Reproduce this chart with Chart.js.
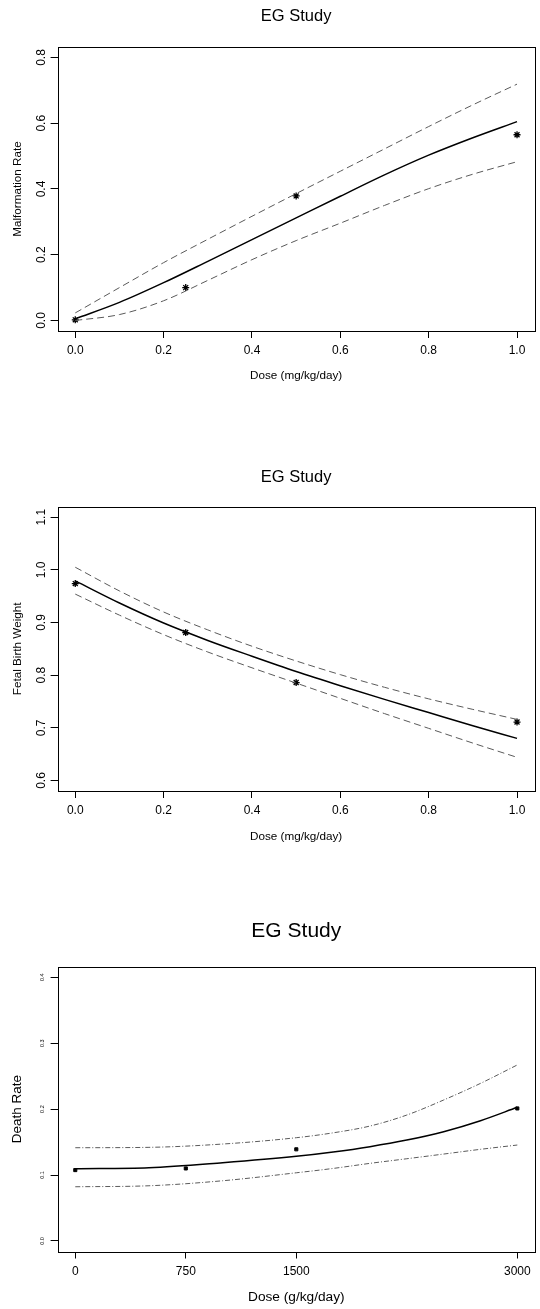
<!DOCTYPE html>
<html>
<head>
<meta charset="utf-8">
<script src="https://cdn.jsdelivr.net/npm/chart.js@4.4.1/dist/chart.umd.min.js"></script>
<style>
  html, body { margin: 0; padding: 0; background: #ffffff; }
  #wrap { position: relative; width: 540px; height: 1309px; background: #fff; }
  canvas { position: absolute; left: 0; }
</style>
</head>
<body>
<div id="wrap">
  <canvas id="c1" width="540" height="420" style="top:0px"></canvas>
  <canvas id="c2" width="540" height="420" style="top:440px"></canvas>
  <canvas id="c3" width="540" height="409" style="top:900px"></canvas>
</div>
<script>
// ---------------- DATA ----------------
// Chart 1: malformation rate
const doseMg = [0, 0.25, 0.5, 1.0];
const malfObs = [0.002, 0.100, 0.379, 0.565];
const curveDoseMg = [0, 0.1, 0.2, 0.3, 0.4, 0.5, 0.6, 0.7, 0.8, 0.9, 1.0];
const malfFit   = [0.005, 0.055, 0.115, 0.180, 0.246, 0.312, 0.378, 0.443, 0.503, 0.556, 0.605];
const malfUpper = [0.023, 0.100, 0.176, 0.247, 0.317, 0.386, 0.454, 0.522, 0.590, 0.656, 0.719];
const malfLower = [0.000, 0.018, 0.060, 0.122, 0.185, 0.243, 0.296, 0.350, 0.401, 0.445, 0.483];

// Chart 2: fetal birth weight
const fbwObs   = [0.974, 0.881, 0.786, 0.711];
const fbwFit   = [0.979, 0.937, 0.899, 0.866, 0.836, 0.807, 0.780, 0.754, 0.729, 0.704, 0.680];
const fbwUpper = [1.005, 0.960, 0.920, 0.886, 0.855, 0.827, 0.801, 0.777, 0.755, 0.735, 0.716];
const fbwLower = [0.954, 0.914, 0.877, 0.844, 0.814, 0.785, 0.756, 0.727, 0.699, 0.671, 0.644];

// Chart 3: death rate
const doseG = [0, 750, 1500, 3000];
const deathObs = [0.1075, 0.110, 0.139, 0.201];
const curveDoseG = [0, 500, 1000, 1500, 1750, 2000, 2250, 2500, 2750, 3000];
const deathFit   = [0.1095, 0.1110, 0.1186, 0.1283, 0.1349, 0.1430, 0.1530, 0.1657, 0.1824, 0.2027];
const deathUpper = [0.1414, 0.1420, 0.1470, 0.1566, 0.1640, 0.1743, 0.1910, 0.2138, 0.2390, 0.2670];
const deathLower = [0.0822, 0.0837, 0.0913, 0.1034, 0.1100, 0.1177, 0.1247, 0.1318, 0.1390, 0.1455];

// Ticks
const xTicksMg = [0, 0.2, 0.4, 0.6, 0.8, 1.0];
const yTicksMalf = [0, 0.2, 0.4, 0.6, 0.8];
const yTicksFbw = [0.6, 0.7, 0.8, 0.9, 1.0, 1.1];
const xTicksG = [0, 750, 1500, 3000];
const yTicksDeath = [0, 0.1, 0.2, 0.3, 0.4];

// Text
const titleText = 'EG Study';
const xLabelMg = 'Dose (mg/kg/day)';
const xLabelG = 'Dose (g/kg/day)';
const yLabels = ['Malformation Rate', 'Fetal Birth Weight', 'Death Rate'];

// ---------------- HELPERS ----------------
const FONT = '"Liberation Sans", Arial, Helvetica, sans-serif';
const pts = (xs, ys) => xs.map((x, i) => ({x: x, y: ys[i]}));

const boxPlugin = {
  id: 'rbox',
  afterDraw(chart) {
    const a = chart.chartArea, ctx = chart.ctx;
    ctx.save();
    ctx.strokeStyle = '#000';
    ctx.lineWidth = 1;
    ctx.strokeRect(Math.round(a.left) + 0.5, Math.round(a.top) + 0.5,
                   Math.round(a.right - a.left), Math.round(a.bottom - a.top));
    ctx.restore();
  }
};

function makeChart(id, cfg) {
  const curveStyle = {
    showLine: true, pointRadius: 0, pointHoverRadius: 0, fill: false,
    cubicInterpolationMode: 'monotone'
  };
  const ds = [
    Object.assign({data: pts(cfg.cx, cfg.upper), borderColor: '#5a5a5a', borderWidth: 1, borderDash: cfg.dash}, curveStyle),
    Object.assign({data: pts(cfg.cx, cfg.lower), borderColor: '#5a5a5a', borderWidth: 1, borderDash: cfg.dash}, curveStyle),
    Object.assign({data: pts(cfg.cx, cfg.fit), borderColor: '#000', borderWidth: 1.5}, curveStyle),
    {data: pts(cfg.ox, cfg.obs), showLine: false, pointStyle: cfg.pstyle, pointRadius: cfg.prad,
     pointBorderWidth: cfg.pbw, pointBorderColor: '#000', pointBackgroundColor: '#000'}
  ];
  return new Chart(document.getElementById(id), {
    type: 'scatter',
    data: {datasets: ds},
    plugins: [boxPlugin],
    options: {
      responsive: false, animation: false, devicePixelRatio: 1,
      layout: {padding: {left: 0, right: 3.3, top: 0, bottom: cfg.padBottom}},
      plugins: {
        legend: {display: false}, tooltip: {enabled: false},
        title: {display: true, text: titleText, fullSize: false, color: '#000',
                font: {family: FONT, size: cfg.titleSize, weight: 'normal', lineHeight: 1.2},
                padding: {top: cfg.titlePadTop, bottom: cfg.titlePadBottom}}
      },
      scales: {
        x: {
          type: 'linear', min: cfg.xmin, max: cfg.xmax,
          afterBuildTicks: s => { s.ticks = cfg.xticks.map(v => ({value: v})); },
          afterFit: s => { s.height = cfg.xAxisH; },
          grid: {display: true, drawOnChartArea: false, drawTicks: true, tickLength: 7, color: '#000', lineWidth: 1},
          border: {display: false},
          ticks: {color: '#000', font: {family: FONT, size: 12}, padding: 5.8, autoSkip: false,
                  maxRotation: 0, minRotation: 0, callback: cfg.xfmt},
          title: {display: true, text: cfg.xlabel, color: '#000',
                  font: {family: FONT, size: cfg.xTitleSize, lineHeight: 1.2},
                  padding: {top: 0, bottom: cfg.xTitlePadBottom}}
        },
        y: {
          type: 'linear', min: cfg.ymin, max: cfg.ymax,
          afterBuildTicks: s => { s.ticks = cfg.yticks.map(v => ({value: v})); },
          afterFit: s => { s.width = 57.6; },
          grid: {display: true, drawOnChartArea: false, drawTicks: true, tickLength: 7, color: '#000', lineWidth: 1},
          border: {display: false},
          ticks: {color: '#000', font: {family: FONT, size: cfg.yTickSize}, padding: cfg.yTickPad, autoSkip: false,
                  minRotation: 90, maxRotation: 90, crossAlign: 'center',
                  callback: v => Number(v).toFixed(1)},
          title: {display: true, text: cfg.ylabel, color: '#000',
                  font: {family: FONT, size: cfg.yTitleSize, lineHeight: 1.2},
                  padding: {top: cfg.yTitlePadTop, bottom: 0}}
        }
      }
    }
  });
}

makeChart('c1', {
  cx: curveDoseMg, fit: malfFit, upper: malfUpper, lower: malfLower,
  ox: doseMg, obs: malfObs, dash: [7, 4], pstyle: 'star', prad: 3.5, pbw: 1.3,
  xmin: -0.04, xmax: 1.04, ymin: -0.032, ymax: 0.832,
  xticks: xTicksMg, yticks: yTicksMalf, xfmt: v => Number(v).toFixed(1),
  xlabel: xLabelMg, ylabel: yLabels[0],
  titleSize: 16.5, titlePadTop: 6.8, titlePadBottom: 20.4,
  padBottom: 29, xAxisH: 60, xTitleSize: 11.7, xTitlePadBottom: 8.3,
  yTickSize: 12, yTickPad: 0.5, yTitleSize: 11.7, yTitlePadTop: 10.3
});

makeChart('c2', {
  cx: curveDoseMg, fit: fbwFit, upper: fbwUpper, lower: fbwLower,
  ox: doseMg, obs: fbwObs, dash: [7, 4], pstyle: 'star', prad: 3.5, pbw: 1.3,
  xmin: -0.04, xmax: 1.04, ymin: 0.58, ymax: 1.12,
  xticks: xTicksMg, yticks: yTicksFbw, xfmt: v => Number(v).toFixed(1),
  xlabel: xLabelMg, ylabel: yLabels[1],
  titleSize: 16.5, titlePadTop: 27.1, titlePadBottom: 19.8,
  padBottom: 9, xAxisH: 60, xTitleSize: 11.7, xTitlePadBottom: 7.3,
  yTickSize: 12, yTickPad: 0.5, yTitleSize: 11.7, yTitlePadTop: 10.3
});

makeChart('c3', {
  cx: curveDoseG, fit: deathFit, upper: deathUpper, lower: deathLower,
  ox: doseG, obs: deathObs, dash: [5, 2, 1, 2], pstyle: 'rect', prad: 2.2, pbw: 1,
  xmin: -120, xmax: 3120, ymin: -0.016, ymax: 0.416,
  xticks: xTicksG, yticks: yTicksDeath, xfmt: v => String(Math.round(v)),
  xlabel: xLabelG, ylabel: yLabels[2],
  titleSize: 21, titlePadTop: 19.1, titlePadBottom: 22.4,
  padBottom: 2.5, xAxisH: 55, xTitleSize: 13.7, xTitlePadBottom: 0.6,
  yTickSize: 5.5, yTickPad: 4.1, yTitleSize: 13.5, yTitlePadTop: 9.2
});
</script>
</body>
</html>
